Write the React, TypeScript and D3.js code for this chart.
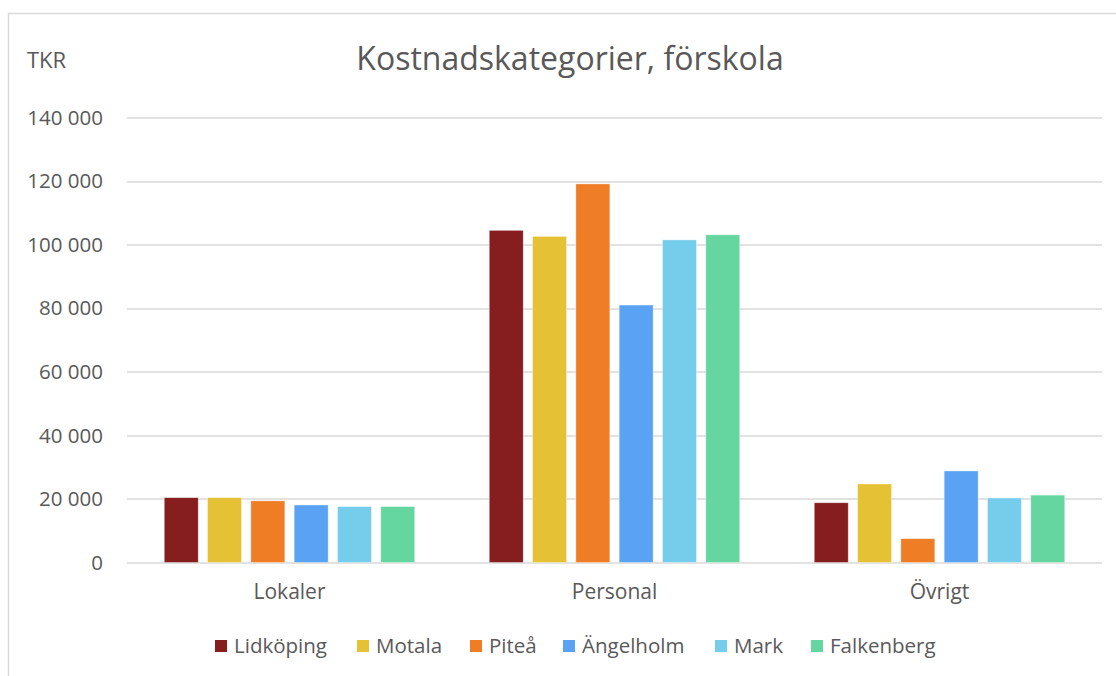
import React, { useEffect, useRef } from 'react';
import * as d3 from 'd3';

const categories = ['Lokaler', 'Personal', 'Övrigt'];
const seriesNames = ['Lidköping', 'Motala', 'Piteå', 'Ängelholm', 'Mark', 'Falkenberg'];
const seriesColors = ['#861D1F', '#E5C135', '#EE7D26', '#5AA2F4', '#76CDEB', '#66D6A0'];
// values per series, in category order (TKR)
const lidkoping = [20400, 104500, 18800];
const motala = [20400, 102600, 24700];
const pitea = [19400, 119100, 7500];
const angelholm = [18100, 81000, 28800];
const mark = [17600, 101500, 20300];
const falkenberg = [17600, 103100, 21200];
const yTicks = [0, 20000, 40000, 60000, 80000, 100000, 120000, 140000];

const seriesValues = [lidkoping, motala, pitea, angelholm, mark, falkenberg];
const FONT = '"Open Sans", sans-serif';

export default function App() {
  const svgRef = useRef<SVGSVGElement>(null);

  useEffect(() => {
    const width = 1116;
    const height = 676;
    const margin = { top: 117.5, right: 14, bottom: 113.5, left: 127 };

    const svg = d3.select(svgRef.current).attr('width', width).attr('height', height);
    svg.selectAll('*').remove();

    // outer frame
    svg.append('rect').attr('x', 8.5).attr('y', 13.5).attr('width', 1120).attr('height', 680)
      .attr('fill', '#fff').attr('stroke', '#D9D9D9').attr('stroke-width', 1.5);

    const innerW = width - margin.left - margin.right;
    const innerH = height - margin.top - margin.bottom;
    const g = svg.append('g').attr('transform', `translate(${margin.left},${margin.top})`);

    const y = d3.scaleLinear().domain([0, 140000]).range([innerH, 0]);
    const x0 = d3.scaleBand().domain(categories).range([0, innerW]).padding(0);
    const x1 = d3.scaleBand().domain(seriesNames).range([0, x0.bandwidth()])
      .paddingInner(0.215).paddingOuter(0.86);

    const fmt = (v: number) => d3.format(',')(v).replace(/,/g, ' ');

    // grid
    g.selectAll('.grid').data(yTicks).join('line').attr('class', 'grid')
      .attr('x1', 0).attr('x2', innerW)
      .attr('y1', d => Math.round(y(d)) + 0.5).attr('y2', d => Math.round(y(d)) + 0.5)
      .attr('stroke', '#D9D9D9').attr('stroke-width', 1.5);

    // y tick labels
    g.selectAll('.ytick').data(yTicks).join('text').attr('class', 'ytick')
      .attr('x', -24).attr('y', d => y(d)).attr('dy', '0.35em')
      .attr('text-anchor', 'end').attr('fill', '#595959')
      .attr('font-family', FONT).attr('font-size', '20.5px')
      .text(d => fmt(d));

    // bars
    seriesNames.forEach((name, si) => {
      g.selectAll(`.bar-${si}`).data(seriesValues[si]).join('rect').attr('class', `bar-${si}`)
        .attr('x', (d, i) => (x0(categories[i]) as number) + (x1(name) as number))
        .attr('width', x1.bandwidth())
        .attr('y', d => y(d)).attr('height', d => innerH - y(d))
        .attr('fill', seriesColors[si])
        .attr('stroke', '#fff').attr('stroke-opacity', 0.5).attr('stroke-width', 0.75);
    });

    // category labels
    g.selectAll('.cat').data(categories).join('text').attr('class', 'cat')
      .attr('x', d => (x0(d) as number) + x0.bandwidth() / 2).attr('y', innerH + 36)
      .attr('text-anchor', 'middle').attr('fill', '#595959')
      .attr('font-family', FONT).attr('font-size', '21px')
      .text(d => d);

    // title and unit
    svg.append('text').attr('x', 570).attr('y', 70).attr('text-anchor', 'middle')
      .attr('fill', '#595959').attr('font-family', FONT).attr('font-size', '32px')
      .text('Kostnadskategorier, förskola');
    svg.append('text').attr('x', 27).attr('y', 68)
      .attr('fill', '#595959').attr('font-family', FONT).attr('font-size', '22px')
      .text('TKR');

    // legend
    const legendX = [215, 357, 470, 563, 715, 811];
    const legend = svg.append('g');
    seriesNames.forEach((name, i) => {
      legend.append('rect').attr('x', legendX[i]).attr('y', 640).attr('width', 12).attr('height', 12)
        .attr('fill', seriesColors[i]);
      legend.append('text').attr('x', legendX[i] + 19).attr('y', 646).attr('dy', '0.35em')
        .attr('fill', '#595959').attr('font-family', FONT).attr('font-size', '20.5px')
        .text(name);
    });
  }, []);

  return (
    <div style={{ position: 'absolute', left: 0, top: 0, width: 1116, height: 676, overflow: 'hidden' }}>
      <svg ref={svgRef} style={{ display: 'block' }} />
    </div>
  );
}
